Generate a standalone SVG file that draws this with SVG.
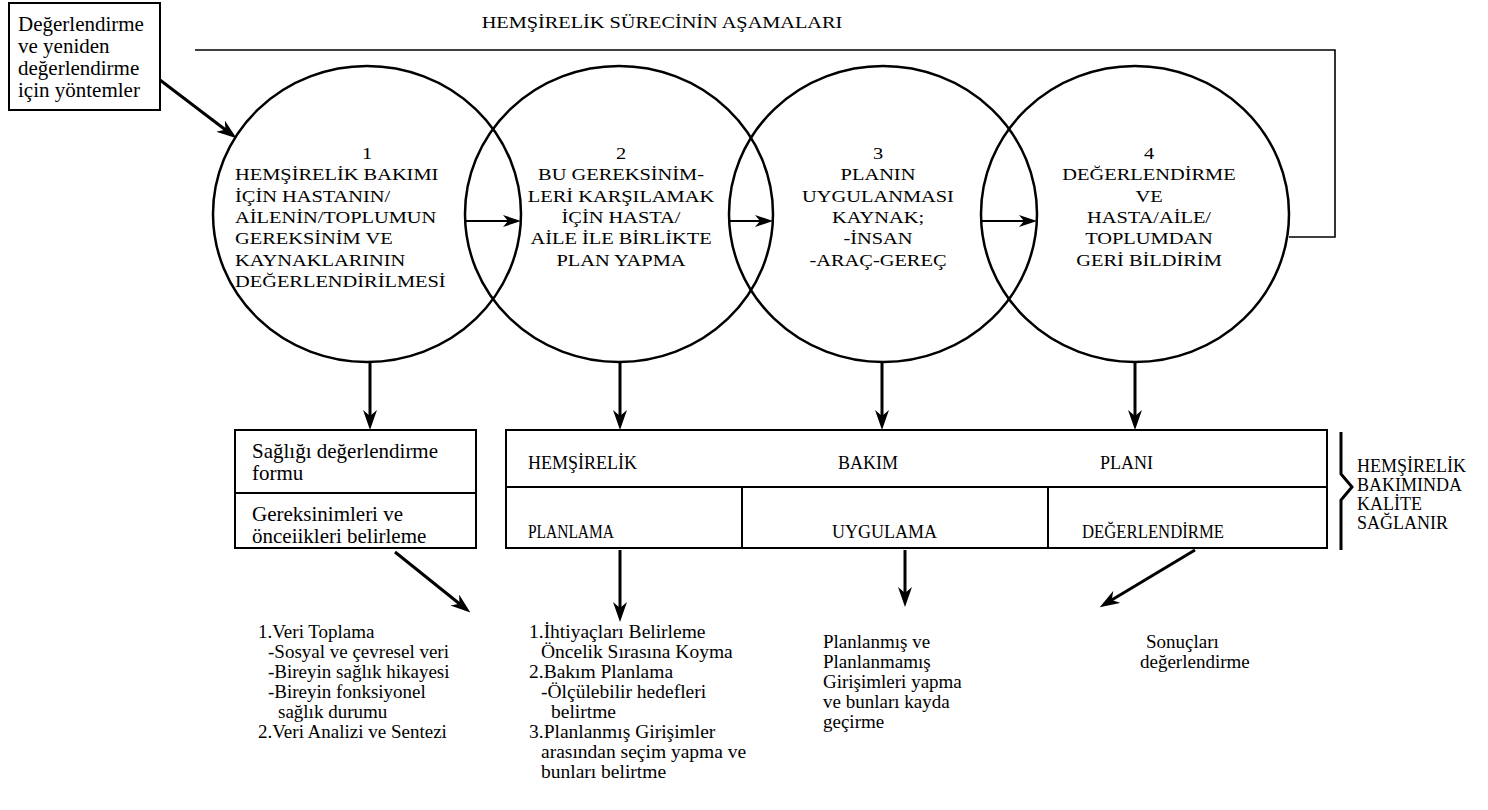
<svg xmlns="http://www.w3.org/2000/svg" width="1488" height="810" viewBox="0 0 1488 810">
<style>
text{font-family:"Liberation Serif","Times New Roman",serif;fill:#000}
.cap{font-size:17px}
.low{font-size:21px}
.lst{font-size:19px}
.box{font-size:18px}
.circ{fill:none;stroke:#000;stroke-width:2.5}
.frame{fill:none;stroke:#000;stroke-width:2}
.thick{stroke:#000;stroke-width:3;fill:none}
.thin{stroke:#000;stroke-width:2;fill:none}
.fb{stroke:#000;stroke-width:1.6;fill:none}
.m{text-anchor:middle}
</style>
<defs>
<marker id="ah" viewBox="0 0 20 14" markerWidth="20" markerHeight="14" refX="8" refY="7" orient="auto" markerUnits="userSpaceOnUse">
<path d="M0,0 L20,7 L0,14 L6,7 z" fill="#000"/>
</marker>
<marker id="ahs" viewBox="0 0 18 12" markerWidth="18" markerHeight="12" refX="8" refY="6" orient="auto" markerUnits="userSpaceOnUse">
<path d="M0,0 L18,6 L0,12 L5,6 z" fill="#000"/>
</marker>
</defs>

<g id="title">
<g transform="translate(662 28) scale(1.23 1)"><text class="cap m" x="0" y="0" style="font-size:16.5px">HEMŞİRELİK SÜRECİNİN AŞAMALARI</text></g>
</g>

<g id="methods">
<rect class="frame" x="9" y="3" width="151" height="107"/>
<text class="low" x="18" y="31">Değerlendirme</text>
<text class="low" x="18" y="53">ve yeniden</text>
<text class="low" x="18" y="75">değerlendirme</text>
<text class="low" x="18" y="97">için yöntemler</text>
</g>

<g id="circle1">
<ellipse class="circ" cx="367" cy="214" rx="154" ry="148"/>
<g transform="translate(367 0) scale(1.2 1)">
<text class="cap m" x="0" y="159">1</text>
<text class="cap" x="-110" y="180">HEMŞİRELİK BAKIMI</text>
<text class="cap" x="-110" y="202">İÇİN HASTANIN/</text>
<text class="cap" x="-110" y="223">AİLENİN/TOPLUMUN</text>
<text class="cap" x="-110" y="244">GEREKSİNİM VE</text>
<text class="cap" x="-110" y="266">KAYNAKLARININ</text>
<text class="cap" x="-110" y="287">DEĞERLENDİRİLMESİ</text>
</g>
</g>

<g id="circle2">
<ellipse class="circ" cx="619" cy="214" rx="154" ry="148"/>
<g transform="translate(621 0) scale(1.2 1)">
<text class="cap m" x="0" y="159">2</text>
<text class="cap m" x="0" y="180">BU GEREKSİNİM-</text>
<text class="cap m" x="0" y="202">LERİ KARŞILAMAK</text>
<text class="cap m" x="0" y="223">İÇİN HASTA/</text>
<text class="cap m" x="0" y="244">AİLE İLE BİRLİKTE</text>
<text class="cap m" x="0" y="266">PLAN YAPMA</text>
</g>
</g>

<g id="circle3">
<ellipse class="circ" cx="883" cy="214" rx="154" ry="148"/>
<g transform="translate(878 0) scale(1.2 1)">
<text class="cap m" x="0" y="159">3</text>
<text class="cap m" x="0" y="180">PLANIN</text>
<text class="cap m" x="0" y="202">UYGULANMASI</text>
<text class="cap m" x="0" y="223">KAYNAK;</text>
<text class="cap m" x="0" y="244">-İNSAN</text>
<text class="cap m" x="0" y="266">-ARAÇ-GEREÇ</text>
</g>
</g>

<g id="circle4">
<ellipse class="circ" cx="1135" cy="214" rx="154" ry="148"/>
<g transform="translate(1149 0) scale(1.2 1)">
<text class="cap m" x="0" y="159">4</text>
<text class="cap m" x="0" y="180">DEĞERLENDİRME</text>
<text class="cap m" x="0" y="202">VE</text>
<text class="cap m" x="0" y="223">HASTA/AİLE/</text>
<text class="cap m" x="0" y="244">TOPLUMDAN</text>
<text class="cap m" x="0" y="266">GERİ BİLDİRİM</text>
</g>
</g>

<g id="assessmentBox">
<rect class="frame" x="235" y="430" width="241" height="118"/>
<line class="frame" x1="235" y1="493" x2="476" y2="493"/>
<text class="low" x="252" y="458">Sağlığı değerlendirme</text>
<text class="low" x="252" y="480">formu</text>
<text class="low" x="252" y="521">Gereksinimleri ve</text>
<text class="low" x="252" y="543">önceiikleri belirleme</text>
</g>

<g id="planBox">
<rect class="frame" x="506" y="430" width="821" height="118"/>
<line class="frame" x1="506" y1="487" x2="1327" y2="487"/>
<line class="frame" x1="742" y1="487" x2="742" y2="548"/>
<line class="frame" x1="1048" y1="487" x2="1048" y2="548"/>
<text class="box" x="528" y="469">HEMŞİRELİK</text>
<text class="box" x="838" y="469">BAKIM</text>
<text class="box" x="1100" y="469">PLANI</text>
<text class="box" x="528" y="538" textLength="86" lengthAdjust="spacingAndGlyphs">PLANLAMA</text>
<text class="box" x="832" y="538">UYGULAMA</text>
<text class="box" x="1082" y="538" textLength="142" lengthAdjust="spacingAndGlyphs">DEĞERLENDİRME</text>
</g>

<g id="quality">
<path class="thick" d="M1341,432 V474 L1352,487 L1341,500 V550"/>
<text class="box" x="1357" y="472">HEMŞİRELİK</text>
<text class="box" x="1357" y="491">BAKIMINDA</text>
<text class="box" x="1357" y="510">KALİTE</text>
<text class="box" x="1357" y="529">SAĞLANIR</text>
</g>

<g id="list1">
<text class="lst" x="258" y="638">1.Veri Toplama</text>
<text class="lst" x="268" y="658">-Sosyal ve çevresel veri</text>
<text class="lst" x="268" y="678">-Bireyin sağlık hikayesi</text>
<text class="lst" x="268" y="698">-Bireyin fonksiyonel</text>
<text class="lst" x="278" y="718">sağlık durumu</text>
<text class="lst" x="258" y="738">2.Veri Analizi ve Sentezi</text>
</g>

<g id="list2" style="font-size:19.5px">
<text x="529" y="638" style="font-size:19.5px">1.İhtiyaçları Belirleme</text>
<text x="541" y="658" style="font-size:19.5px">Öncelik Sırasına Koyma</text>
<text x="529" y="678" style="font-size:19.5px">2.Bakım Planlama</text>
<text x="541" y="698" style="font-size:19.5px">-Ölçülebilir hedefleri</text>
<text x="551" y="718" style="font-size:19.5px">belirtme</text>
<text x="529" y="738" style="font-size:19.5px">3.Planlanmış Girişimler</text>
<text x="541" y="758" style="font-size:19.5px">arasından seçim yapma ve</text>
<text x="541" y="778" style="font-size:19.5px">bunları belirtme</text>
</g>

<g id="list3">
<text class="lst" x="823" y="648">Planlanmış ve</text>
<text class="lst" x="823" y="668">Planlanmamış</text>
<text class="lst" x="823" y="688">Girişimleri yapma</text>
<text class="lst" x="823" y="708">ve bunları kayda</text>
<text class="lst" x="823" y="728">geçirme</text>
</g>

<g id="list4">
<text class="lst" x="1146" y="648">Sonuçları</text>
<text class="lst" x="1140" y="668">değerlendirme</text>
</g>

<g id="connectors">
<path class="fb" d="M195,50 H1335 V237 H1289"/>
<line class="thick" x1="160" y1="80" x2="227" y2="131" marker-end="url(#ah)"/>
<line class="thin" x1="465" y1="221" x2="511" y2="221" marker-end="url(#ahs)"/>
<line class="thin" x1="729" y1="221" x2="763" y2="221" marker-end="url(#ahs)"/>
<line class="thin" x1="981" y1="221" x2="1027" y2="221" marker-end="url(#ahs)"/>
<line class="thick" x1="370" y1="362" x2="370" y2="418" marker-end="url(#ah)"/>
<line class="thick" x1="620" y1="362" x2="620" y2="418" marker-end="url(#ah)"/>
<line class="thick" x1="882" y1="362" x2="882" y2="418" marker-end="url(#ah)"/>
<line class="thick" x1="1135" y1="362" x2="1135" y2="418" marker-end="url(#ah)"/>
<line class="thick" x1="395" y1="552" x2="461" y2="605" marker-end="url(#ah)"/>
<line class="thick" x1="620" y1="550" x2="620" y2="610" marker-end="url(#ah)"/>
<line class="thick" x1="905" y1="550" x2="905" y2="595" marker-end="url(#ah)"/>
<line class="thick" x1="1195" y1="550" x2="1110" y2="601" marker-end="url(#ah)"/>
</g>
</svg>
